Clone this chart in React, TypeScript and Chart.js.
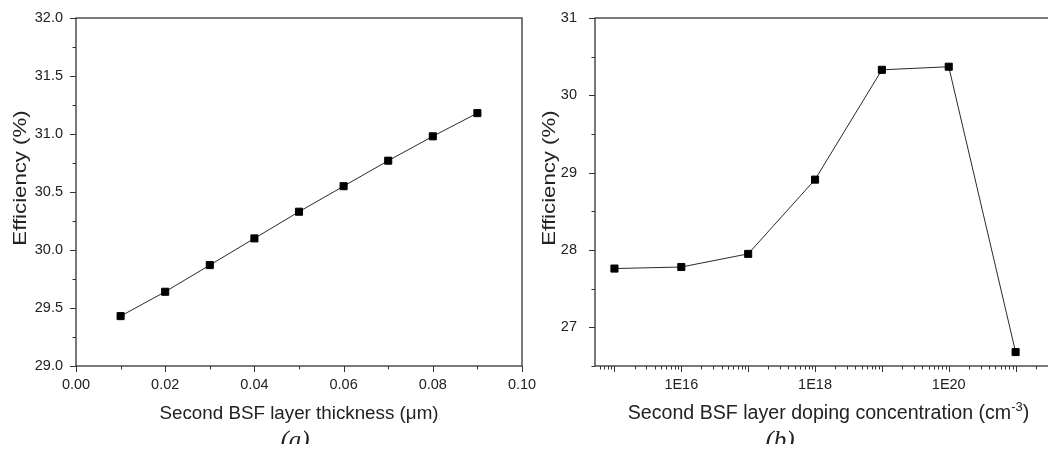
import React, { useEffect, useRef } from 'react';
import { Chart, registerables } from 'chart.js';

Chart.register(...registerables);

// ---------- data ----------
const thicknessUm = [0.01, 0.02, 0.03, 0.04, 0.05, 0.06, 0.07, 0.08, 0.09];
const efficiencyA = [29.43, 29.64, 29.87, 30.10, 30.33, 30.55, 30.77, 30.98, 31.18];

const dopingCm3 = [1e15, 1e16, 1e17, 1e18, 1e19, 1e20, 1e21];
const efficiencyB = [27.76, 27.78, 27.95, 28.91, 30.33, 30.37, 26.68];

// ---------- ticks ----------
const xMajorA = [0, 0.02, 0.04, 0.06, 0.08, 0.1];
const xMinorA = [0.01, 0.03, 0.05, 0.07, 0.09];
const yMajorA = [29, 29.5, 30, 30.5, 31, 31.5, 32];
const yMinorA = [29.25, 29.75, 30.25, 30.75, 31.25, 31.75];

const xLabelValuesB = [1e16, 1e18, 1e20];
const xLabelsB = ['1E16', '1E18', '1E20'];
const xDecadesB = [1e15, 1e16, 1e17, 1e18, 1e19, 1e20, 1e21];
const yMajorB = [27, 28, 29, 30, 31];
const yMinorB = [26.5, 27.5, 28.5, 29.5, 30.5];

const FONT = '"Liberation Sans", Arial, sans-serif';
const AXIS = '#333333';
const TEXT = '#222222';

function logMinors(min: number, max: number): number[] {
  const out: number[] = [];
  for (let d = Math.floor(Math.log10(min)); d <= Math.ceil(Math.log10(max)); d++) {
    for (let m = 2; m <= 9; m++) {
      const v = m * Math.pow(10, d);
      if (v >= min && v <= max) out.push(v);
    }
  }
  return out;
}

const framePlugin = {
  id: 'frame',
  afterDraw(chart: any, _args: any, o: any) {
    const { ctx, chartArea: a, scales } = chart;
    const xs = scales.x;
    const ys = scales.y;
    ctx.save();
    ctx.strokeStyle = AXIS;
    ctx.lineWidth = 1.3;
    ctx.strokeRect(a.left, a.top, a.right - a.left, a.bottom - a.top);
    ctx.lineWidth = 1;
    const seg = (x1: number, y1: number, x2: number, y2: number) => {
      ctx.beginPath();
      ctx.moveTo(x1, y1);
      ctx.lineTo(x2, y2);
      ctx.stroke();
    };
    (o.xMajor || []).forEach((v: number) => {
      const p = Math.round(xs.getPixelForValue(v)) + 0.5;
      if (p >= a.left - 1 && p <= a.right + 1) seg(p, a.bottom, p, a.bottom + 6);
    });
    (o.xMinor || []).forEach((v: number) => {
      const p = Math.round(xs.getPixelForValue(v)) + 0.5;
      if (p >= a.left - 1 && p <= a.right + 1) seg(p, a.bottom, p, a.bottom + 3.5);
    });
    (o.yMajor || []).forEach((v: number) => {
      const p = Math.round(ys.getPixelForValue(v)) + 0.5;
      if (p >= a.top - 1 && p <= a.bottom + 1) seg(a.left, p, a.left - 6, p);
    });
    (o.yMinor || []).forEach((v: number) => {
      const p = Math.round(ys.getPixelForValue(v)) + 0.5;
      if (p >= a.top - 1 && p <= a.bottom + 1) seg(a.left, p, a.left - 3.5, p);
    });

    // x title (with optional superscript)
    ctx.fillStyle = TEXT;
    ctx.textBaseline = 'alphabetic';
    ctx.textAlign = 'left';
    const main = `${o.xTitleSize}px ${FONT}`;
    const small = `${Math.round(o.xTitleSize * 0.65)}px ${FONT}`;
    ctx.font = main;
    const w1 = ctx.measureText(o.xTitle).width;
    let w2 = 0;
    let w3 = 0;
    if (o.xSup) {
      ctx.font = small;
      w2 = ctx.measureText(o.xSup).width;
      ctx.font = main;
      w3 = ctx.measureText(o.xTitleEnd).width;
    }
    const cx = (a.left + a.right) / 2;
    const x0 = cx - (w1 + w2 + w3) / 2;
    const by = a.bottom + 53;
    ctx.font = main;
    ctx.fillText(o.xTitle, x0, by);
    if (o.xSup) {
      ctx.font = small;
      ctx.fillText(o.xSup, x0 + w1, by - 8);
      ctx.font = main;
      ctx.fillText(o.xTitleEnd, x0 + w1 + w2, by);
    }

    // y title (rotated)
    ctx.save();
    ctx.translate(o.yTitleX, (a.top + a.bottom) / 2 - 14);
    ctx.rotate(-Math.PI / 2);
    ctx.scale(1.2, 1);
    ctx.font = `18.5px ${FONT}`;
    ctx.textAlign = 'center';
    ctx.textBaseline = 'middle';
    ctx.fillText(o.yTitle, 0, 0);
    ctx.restore();

    // caption
    ctx.font = `italic 25px "Liberation Serif", "Times New Roman", serif`;
    ctx.textAlign = 'center';
    ctx.textBaseline = 'alphabetic';
    ctx.fillText(o.caption, o.captionX, 448);
    ctx.restore();
  },
};

function commonDataset(xs: number[], ys: number[]) {
  return {
    data: xs.map((x, i) => ({ x, y: ys[i] })),
    borderColor: '#2a2a2a',
    borderWidth: 1,
    backgroundColor: '#000000',
    pointStyle: 'rect' as const,
    pointRadius: 5,
    pointBorderWidth: 1,
    pointBorderColor: '#000000',
    pointBackgroundColor: '#000000',
    tension: 0,
  };
}

const xFit = (s: any) => {
  s.height = 86;
  s.paddingLeft = 0;
  s.paddingRight = 0;
};

function ChartA() {
  const ref = useRef<HTMLCanvasElement>(null);
  useEffect(() => {
    const chart = new Chart(ref.current!, {
      type: 'line',
      data: { datasets: [commonDataset(thicknessUm, efficiencyA)] },
      plugins: [framePlugin],
      options: {
        animation: false,
        responsive: false,
        layout: { padding: { left: 0, top: 18, right: 38, bottom: 0 } },
        plugins: {
          legend: { display: false },
          tooltip: { enabled: false },
          frame: {
            xMajor: xMajorA,
            xMinor: xMinorA,
            yMajor: yMajorA,
            yMinor: yMinorA,
            xTitle: 'Second BSF layer thickness (μm)',
            xTitleSize: 18.8,
            yTitle: 'Efficiency (%)',
            yTitleX: 21,
            caption: '(a)',
            captionX: 295,
          },
        } as any,
        scales: {
          x: {
            type: 'linear',
            min: 0,
            max: 0.1,
            grid: { display: false, drawTicks: false },
            border: { display: false },
            afterBuildTicks: (s: any) => {
              s.ticks = xMajorA.map((v) => ({ value: v }));
            },
            afterFit: xFit,
            ticks: {
              autoSkip: false,
              maxRotation: 0,
              padding: 10,
              color: TEXT,
              font: { family: FONT, size: 14.5 },
              callback: (v: any) => Number(v).toFixed(2),
            },
          },
          y: {
            type: 'linear',
            min: 29,
            max: 32,
            grid: { display: false, drawTicks: false },
            border: { display: false },
            afterBuildTicks: (s: any) => {
              s.ticks = yMajorA.map((v) => ({ value: v }));
            },
            afterFit: (s: any) => {
              s.width = 76;
              s.paddingTop = 0;
              s.paddingBottom = 0;
            },
            ticks: {
              padding: 13,
              color: TEXT,
              font: { family: FONT, size: 14.5 },
              callback: (v: any) => Number(v).toFixed(1),
            },
          },
        },
      },
    });
    return () => chart.destroy();
  }, []);
  return (
    <canvas
      ref={ref}
      width={560}
      height={452}
      style={{ position: 'absolute', left: 0, top: 0, width: 560, height: 452 }}
    />
  );
}

function ChartB() {
  const ref = useRef<HTMLCanvasElement>(null);
  useEffect(() => {
    const xmin = Math.pow(10, 14.709);
    const xmax = Math.pow(10, 21.694);
    const chart = new Chart(ref.current!, {
      type: 'line',
      data: { datasets: [commonDataset(dopingCm3, efficiencyB)] },
      plugins: [framePlugin],
      options: {
        animation: false,
        responsive: false,
        layout: { padding: { left: 0, top: 18, right: 5, bottom: 0 } },
        plugins: {
          legend: { display: false },
          tooltip: { enabled: false },
          frame: {
            xMajor: xDecadesB,
            xMinor: logMinors(xmin, xmax),
            yMajor: yMajorB,
            yMinor: yMinorB,
            xTitle: 'Second BSF layer doping concentration (cm',
            xTitleSize: 19.6,
            xSup: '-3',
            xTitleEnd: ')',
            yTitle: 'Efficiency (%)',
            yTitleX: 22,
            caption: '(b)',
            captionX: 252,
          },
        } as any,
        scales: {
          x: {
            type: 'logarithmic',
            min: xmin,
            max: xmax,
            grid: { display: false, drawTicks: false },
            border: { display: false },
            afterBuildTicks: (s: any) => {
              s.ticks = xLabelValuesB.map((v) => ({ value: v }));
            },
            afterFit: xFit,
            ticks: {
              autoSkip: false,
              maxRotation: 0,
              padding: 10,
              color: TEXT,
              font: { family: FONT, size: 14.5 },
              callback: (_v: any, i: number) => xLabelsB[i],
            },
          },
          y: {
            type: 'linear',
            min: 26.5,
            max: 31,
            grid: { display: false, drawTicks: false },
            border: { display: false },
            afterBuildTicks: (s: any) => {
              s.ticks = yMajorB.map((v) => ({ value: v }));
            },
            afterFit: (s: any) => {
              s.width = 67;
              s.paddingTop = 0;
              s.paddingBottom = 0;
            },
            ticks: {
              padding: 18,
              color: TEXT,
              font: { family: FONT, size: 14.5 },
              callback: (v: any) => String(v),
            },
          },
        },
      },
    });
    return () => chart.destroy();
  }, []);
  return (
    <canvas
      ref={ref}
      width={540}
      height={452}
      style={{ position: 'absolute', left: 528, top: 0, width: 540, height: 452 }}
    />
  );
}

export default function App() {
  return (
    <div
      style={{
        position: 'relative',
        margin: -8,
        width: 1056,
        height: 452,
        overflow: 'hidden',
        background: '#ffffff',
      }}
    >
      <ChartA />
      <ChartB />
    </div>
  );
}
